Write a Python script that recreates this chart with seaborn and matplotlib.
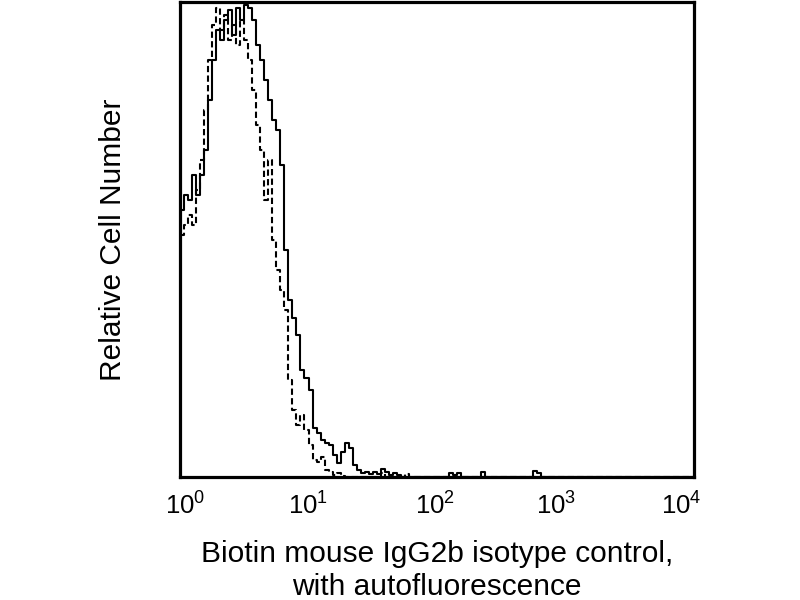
import numpy as np
import pandas as pd
import matplotlib
matplotlib.use("Agg")
import matplotlib.pyplot as plt
import matplotlib.transforms as mtransforms
import seaborn as sns
from matplotlib.ticker import NullLocator, NullFormatter, LogFormatterSciNotation

# 256-channel log scale (4 decades): intensity = 10 ** (channel / 64)
solid_channels = [0, 2, 4, 6, 8, 10, 12, 14, 16, 18, 20, 22, 24, 26, 28, 30, 32, 34, 36, 38,
                  40, 42, 44, 46, 48, 50, 52, 54, 56, 58, 60, 62, 64, 66, 68, 70, 72, 74, 76, 78,
                  80, 82, 84, 86, 88, 90, 92, 94, 96, 98, 100, 102, 104, 106, 108, 110,
                  132, 134, 136, 138, 140, 148, 150, 152, 174, 176, 178, 180, 256]
solid_counts = [56.2, 59.4, 58.3, 63.6, 59.4, 63.6, 68.8, 79.4, 87.8, 94.1, 92.0, 96.2, 98.3, 93.1,
                98.7, 96.2, 99.4, 98.7, 96.2, 90.9, 87.8, 83.6, 79.4, 75.2, 73.1, 65.7, 47.8, 37.3,
                33.5, 29.9, 22.5, 20.8, 18.3, 10.3, 9.3, 7.8, 7.2, 6.7, 4.6, 2.9, 5.3, 7.2, 6.1,
                2.5, 1.5, 0.8, 1.1, 0.6, 1.1, 0.6, 1.7, 1.1, 0.4, 0.8, 0.4, 0.0,
                0.0, 0.8, 0.4, 0.8, 0.0, 0.0, 1.1, 0.0, 0.0, 1.3, 0.8, 0.0, 0.0]

dashed_channels = [0, 2, 4, 6, 8, 10, 12, 14, 16, 18, 20, 22, 24, 26, 28, 30, 32, 34, 36, 38,
                   40, 42, 44, 46, 48, 50, 52, 54, 56, 58, 60, 62, 64, 66, 68, 70, 72, 74, 76, 78,
                   80, 82, 98, 100, 102, 110, 112, 114, 256]
dashed_counts = [50.9, 53.1, 55.2, 53.1, 60.4, 66.7, 77.3, 87.8, 95.2, 98.7, 94.1, 97.3, 92.0, 95.2,
                 90.9, 96.2, 92.0, 87.8, 81.5, 74.1, 68.8, 58.3, 66.7, 49.9, 43.6, 39.4, 35.2, 20.4,
                 14.1, 10.9, 13.1, 9.9, 6.7, 3.6, 3.2, 4.2, 1.5, 1.1, 0.4, 0.8, 0.2, 0.0,
                 0.0, 0.8, 0.0, 0.0, 0.6, 0.0, 0.0]

x_ticks = [1, 10, 100, 1000, 10000]
xlabel_text = "Biotin mouse IgG2b isotype control,\nwith autofluorescence"
ylabel_text = "Relative Cell Number"

sns.set_style("white")
plt.rcParams["font.family"] = ["Liberation Sans", "DejaVu Sans"]
plt.rcParams["mathtext.fontset"] = "custom"
plt.rcParams["mathtext.rm"] = "Liberation Sans"
plt.rcParams["mathtext.it"] = "Liberation Sans:italic"
plt.rcParams["mathtext.bf"] = "Liberation Sans:bold"
plt.rcParams["text.color"] = "black"
plt.rcParams["axes.labelcolor"] = "black"
plt.rcParams["xtick.color"] = "black"
plt.rcParams["ytick.color"] = "black"

df_solid = pd.DataFrame({"intensity": [10 ** (c / 64) for c in solid_channels],
                         "count": solid_counts})
df_dashed = pd.DataFrame({"intensity": [10 ** (c / 64) for c in dashed_channels],
                          "count": dashed_counts})

fig = plt.figure(figsize=(8, 6), dpi=100)
ax = fig.add_axes([0.225, 0.205, 0.6425, 0.792])

sns.lineplot(data=df_dashed, x="intensity", y="count", ax=ax, color="black",
             linewidth=1.5, drawstyle="steps-post", dashes=False, linestyle=(0, (3, 1.6)))
sns.lineplot(data=df_solid, x="intensity", y="count", ax=ax, color="black",
             linewidth=1.5, drawstyle="steps-post")

ax.set_xscale("log")
ax.set_xlim(1, 1e4)
ax.set_ylim(0, 100)
ax.set_xticks(x_ticks)
ax.xaxis.set_major_formatter(LogFormatterSciNotation())
ax.xaxis.set_minor_locator(NullLocator())
ax.xaxis.set_minor_formatter(NullFormatter())
ax.yaxis.set_major_locator(NullLocator())
ax.tick_params(axis="x", length=0, pad=11, labelsize=18.5, labelcolor="black")

# small per-label horizontal nudges (pixels) seen in the reference
label_nudges_px = [5, 0, -2, -9, -13]
for lbl, dx in zip(ax.get_xticklabels(), label_nudges_px):
    shift = mtransforms.ScaledTranslation(dx / 100, 0, fig.dpi_scale_trans)
    lbl.set_transform(lbl.get_transform() + shift)

for s in ax.spines.values():
    s.set_visible(True)
    s.set_color("black")
    s.set_linewidth(2.3)

ax.set_xlabel(xlabel_text, fontsize=21.5, labelpad=15, linespacing=1.2, color="black")
ax.set_ylabel(ylabel_text, fontsize=21.5, labelpad=38, color="black")

fig.savefig("out.png", dpi=100, facecolor="white")
